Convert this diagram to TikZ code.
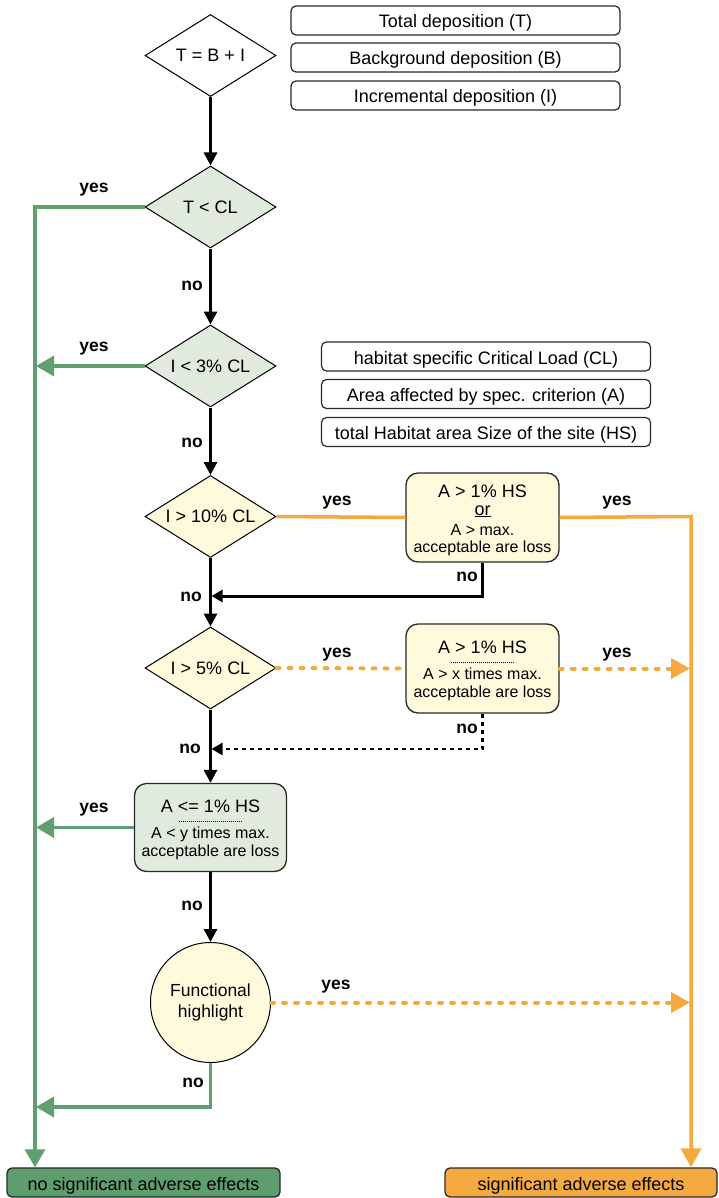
\documentclass[tikz,border=0pt]{standalone}
\usepackage{fontspec}
\setmainfont{Liberation Sans}
\usetikzlibrary{shapes.geometric,arrows.meta}
\definecolor{lgreen}{RGB}{224,234,221}
\definecolor{lyellow}{RGB}{255,250,220}
\definecolor{gline}{RGB}{96,160,112}
\definecolor{oline}{RGB}{245,170,65}
\definecolor{gbox}{RGB}{94,158,110}
\definecolor{edge}{RGB}{40,40,40}
\begin{document}
\begin{tikzpicture}[x=1pt,y=-1pt,
  dia/.style={diamond,draw=black,line width=1pt,aspect=1.6,minimum width=131pt,minimum height=82pt,inner sep=0pt,font=\fontsize{18}{20}\selectfont},
  legendbox/.style={draw=edge,line width=1.2pt,rounded corners=5pt,minimum width=329pt,minimum height=29pt,fill=white,inner sep=0pt,text height=17pt,text depth=2pt,font=\fontsize{18}{20}\selectfont},
  condbox/.style={draw=edge,line width=1.3pt,rounded corners=12pt,minimum width=153pt,minimum height=89pt,inner sep=0pt},
  endbox/.style={draw=edge,line width=1.3pt,rounded corners=5pt,minimum height=29pt,inner sep=0pt,text height=17pt,text depth=2pt,font=\fontsize{18}{20}\selectfont},
  big/.style={anchor=base,inner sep=0pt,font=\fontsize{18}{20}\selectfont},
  small/.style={anchor=base,inner sep=0pt,font=\fontsize{16}{18}\selectfont},
  lbl/.style={inner sep=0pt,font=\bfseries\fontsize{17.5}{20}\selectfont},
  blk/.style={line width=3pt,draw=black,-{Triangle[length=13pt,width=13pt]}},
  blkleft/.style={line width=3pt,draw=black,-{Triangle[length=11pt,width=12pt]}},
  bdot/.style={line width=2.5pt,draw=black,dash pattern=on 4pt off 4pt,-{Triangle[length=11pt,width=12pt]}},
  garrow/.style={line width=3.5pt,draw=gline,-{Triangle[length=18pt,width=20pt]}},
  oline/.style={line width=3.5pt,draw=oline},
  oarrow/.style={line width=3.5pt,draw=oline,-{Triangle[length=19pt,width=20pt]}},
  odash/.style={line width=4pt,draw=oline,line cap=round,dash pattern=on 3pt off 9pt},
  odasharrow/.style={odash,-{Triangle[length=19pt,width=20pt]}},
  sep/.style={line width=0.9pt,draw=black,dash pattern=on 1pt off 1pt}
]
\useasboundingbox (0,0) rectangle (719,1198);

% legend boxes
\node[legendbox] (lT) at (455.5,20.5) {Total deposition (T)};
\node[legendbox] (lB) at (455.5,57.5) {Background deposition (B)};
\node[legendbox] (lI) at (455.5,95.5) {Incremental deposition (I)};
\node[legendbox] (lCL) at (486,356.5) {habitat specific Critical Load (CL)};
\node[legendbox] (lA) at (486,394) {Area affected by spec. criterion (A)};
\node[legendbox] (lHS) at (486,432) {total Habitat area Size of the site (HS)};

% decision diamonds
\node[dia,fill=white] (d1) at (210.5,55.5) {T = B + I};
\node[dia,fill=lgreen] (d2) at (210.5,207) {T < CL};
\node[dia,fill=lgreen] (d3) at (210.5,366) {I < 3\% CL};
\node[dia,fill=lyellow] (d4) at (210.5,516.5) {I > 10\% CL};
\node[dia,fill=lyellow] (d5) at (210.5,668) {I > 5\% CL};

% condition boxes
\node[condbox,fill=lyellow] (bA) at (482.5,517.5) {};
\node[big] (bA1) at (482.5,497) {A > 1\% HS};
\node[big] (bA2) at (482.5,515) {\underline{or}};
\node[small] (bA3) at (482.5,535) {A > max.};
\node[small] (bA4) at (482.5,552) {acceptable are loss};

\node[condbox,fill=lyellow] (bB) at (482.5,668.5) {};
\node[big] (bB1) at (482.5,653) {A > 1\% HS};
\draw[sep] (451,662) -- (514,662);
\node[small] (bB3) at (482.5,679) {A > x times max.};
\node[small] (bB4) at (482.5,697) {acceptable are loss};

\node[condbox,fill=lgreen,minimum width=152pt,minimum height=88pt] (bC) at (210.5,827.5) {};
\node[big] (bC1) at (210.5,812) {A <= 1\% HS};
\draw[sep] (179,821) -- (242,821);
\node[small] (bC3) at (210.5,838) {A < y times max.};
\node[small] (bC4) at (210.5,856) {acceptable are loss};

\node[circle,draw=black,line width=1pt,fill=lyellow,minimum size=120pt,inner sep=0pt,align=center,font=\fontsize{17.5}{21}\selectfont] (fh) at (210.5,1002.5) {Functional\\highlight};

% end boxes
\node[endbox,fill=gbox,minimum width=273pt] (nsae) at (143.5,1182.5) {no significant adverse effects};
\node[endbox,fill=oline,minimum width=272pt] (sae) at (581,1182.5) {significant adverse effects};

% helper coordinates
\coordinate (gx) at (35,207);
\coordinate (ox) at (691,516.5);
\coordinate (j1) at (482.5,596);
\coordinate (j1e) at (211.5,596);
\coordinate (j2) at (482.5,749);
\coordinate (j2e) at (211.5,749);
\coordinate (j3) at (210.5,1107);
\coordinate (j3e) at (36,1107);

% black main flow
\draw[blk] (d1.south) -- (d2.north);
\draw[blk] (d2.south) -- (d3.north);
\draw[blk] (d3.south) -- (d4.north);
\draw[blk] (d4.south) -- (d5.north);
\draw[blk] (d5.south) -- (bC.north);
\draw[blk] (bC.south) -- (fh.north);

% back to main flow
\draw[blkleft] (bA.south) -- (j1) -- (j1e);
\draw[bdot] (bB.south) -- (j2) -- (j2e);

% green branches
\draw[garrow] (d2.west) -- (gx) -- (gx |- nsae.north);
\draw[garrow] (d3.west) -- (d3.west -| j3e);
\draw[garrow] (bC.west) -- (bC.west -| j3e);
\draw[garrow] (fh.south) -- (j3) -- (j3e);

% orange branches
\draw[oline] (d4.east) -- (bA.west);
\draw[oarrow] (bA.east) -- (ox) -- (ox |- sae.north);
\draw[odash] (d5.east) -- (bB.west);
\draw[odasharrow] (bB.east) -- ([xshift=-1pt]bB.east -| ox);
\draw[odasharrow] (fh.east) -- ([xshift=-1pt]fh.east -| ox);

% labels
\node[lbl] (y1) at (94,190) {yes};
\node[lbl] (n1) at (192,286) {no};
\node[lbl] (y2) at (94,349) {yes};
\node[lbl] (n2) at (192,443) {no};
\node[lbl] (y3) at (337,503) {yes};
\node[lbl] (y4) at (617,503) {yes};
\node[lbl] (n3) at (467,577) {no};
\node[lbl] (n4) at (191,597) {no};
\node[lbl] (y5) at (337,655) {yes};
\node[lbl] (y6) at (617,655) {yes};
\node[lbl] (n5) at (467,729) {no};
\node[lbl] (n6) at (190,749) {no};
\node[lbl] (y7) at (94,810) {yes};
\node[lbl] (n7) at (192,906) {no};
\node[lbl] (y8) at (336,987) {yes};
\node[lbl] (n8) at (193,1083) {no};
\end{tikzpicture}
\end{document}
